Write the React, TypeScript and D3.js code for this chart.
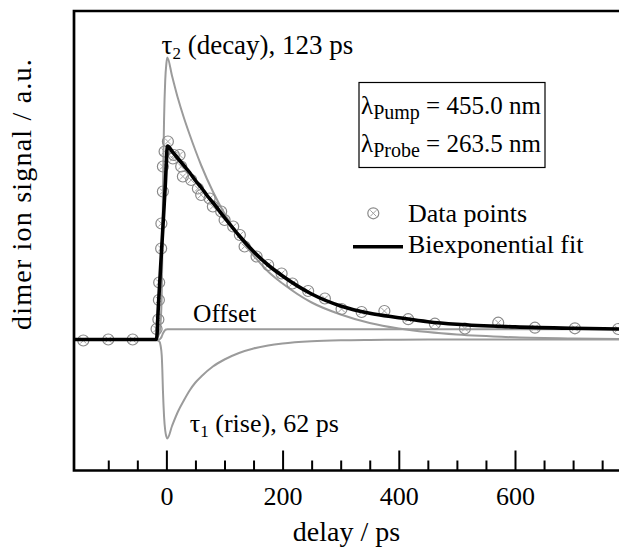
import { useEffect, useRef } from 'react';
import * as d3 from 'd3';

// delay grid (ps) for the three fit components
const compDelay = [-159, -20, -12, -10, -8, -7, -6, -5, -4, -2, 0, 1.5, 10, 20, 30, 40, 50, 60, 80, 100, 125, 150, 175, 200, 250, 300, 350, 400, 450, 500, 600, 700, 779];
const tau2Decay = [0, 0, 0.06, 0.17, 0.45, 0.85, 1.41, 1.86, 2.2, 2.59, 2.76, 2.82, 2.63, 2.41, 2.22, 2.05, 1.89, 1.74, 1.48, 1.26, 1.03, 0.84, 0.68, 0.56, 0.37, 0.25, 0.165, 0.11, 0.074, 0.049, 0.022, 0.01, 0.005];
const tau1Rise = [0, 0, -0.02, -0.06, -0.16, -0.3, -0.5, -0.65, -0.77, -0.91, -0.97, -0.99, -0.86, -0.72, -0.61, -0.51, -0.43, -0.37, -0.27, -0.2, -0.135, -0.09, -0.06, -0.04, -0.018, -0.008, -0.004, -0.002, -0.001, 0, 0, 0, 0];
const offsetComp = [0, 0, 0, 0.01, 0.03, 0.045, 0.06, 0.07, 0.08, 0.095, 0.1, 0.102, 0.102, 0.102, 0.102, 0.102, 0.102, 0.102, 0.102, 0.102, 0.102, 0.102, 0.102, 0.102, 0.102, 0.102, 0.102, 0.102, 0.102, 0.102, 0.102, 0.102, 0.102];

// biexponential fit
const fitDelay = [-159, -17, -14, -10, -6, -2, 2, 10, 20, 30, 40, 50, 60, 70, 80, 100, 125, 150, 175, 200, 250, 300, 350, 400, 450, 500, 600, 700, 779];
const fitSignal = [0, 0, 0.31, 0.72, 1.12, 1.53, 1.935, 1.88, 1.81, 1.74, 1.67, 1.59, 1.52, 1.44, 1.37, 1.22, 1.04, 0.88, 0.745, 0.635, 0.455, 0.335, 0.262, 0.218, 0.178, 0.152, 0.126, 0.112, 0.105];

// measured points
const dataDelay = [-143, -100, -58, -16.9, -13.8, -12.9, -12.4, -9, -8.6, -6, -6, -3.1, 2.6, 11.2, 12.9, 22.7, 25.5, 28.4, 42.7, 54.2, 59.9, 74.4, 80, 94.3, 100.2, 115, 126.5, 134.6, 155.2, 175.2, 198.3, 216.9, 244, 272.8, 301.5, 336, 375.2, 416.2, 462.1, 513.8, 571.1, 634.3, 703.1, 777.6];
const dataSignal = [-0.01, 0, 0, 0.105, 0.2, 0.395, 0.57, 0.91, 1.16, 1.48, 1.73, 1.88, 1.98, 1.81, 1.845, 1.845, 1.73, 1.63, 1.595, 1.51, 1.445, 1.41, 1.33, 1.28, 1.195, 1.13, 1.045, 0.93, 0.83, 0.745, 0.66, 0.56, 0.485, 0.41, 0.305, 0.275, 0.285, 0.203, 0.158, 0.11, 0.168, 0.118, 0.112, 0.105];

const majorTicks = [0, 200, 400, 600];
const minorTicks = [-100, -50, 50, 100, 150, 250, 300, 350, 450, 500, 550, 650, 700, 750];

const W = 619;
const H = 548;
const FONT = '"Liberation Serif", "Times New Roman", serif';

export default function App() {
  const svgRef = useRef<SVGSVGElement>(null);

  useEffect(() => {
    if (!svgRef.current) return;
    const svg = d3.select(svgRef.current);
    svg.selectAll('*').remove();

    const left = 74, top = 11, bottom = 470.5;
    const x = d3.scaleLinear().domain([-159, 779]).range([left, W]);
    const y = d3.scaleLinear().domain([-1.31, 3.285]).range([bottom, top]);

    svg.append('defs').append('clipPath').attr('id', 'plot')
      .append('rect').attr('x', left).attr('y', top).attr('width', W - left).attr('height', bottom - top);

    const line = d3.line<[number, number]>()
      .x((d) => x(d[0]))
      .y((d) => y(d[1]))
      .curve(d3.curveMonotoneX);

    const plot = svg.append('g').attr('clip-path', 'url(#plot)');

    [tau2Decay, tau1Rise, offsetComp].forEach((vals) => {
      plot.append('path')
        .attr('d', line(compDelay.map((t, i) => [t, vals[i]] as [number, number])))
        .attr('fill', 'none')
        .attr('stroke', '#9b9b9b')
        .attr('stroke-width', 2);
    });

    const marker = (g: d3.Selection<SVGGElement, unknown, null, undefined>) => {
      g.append('circle').attr('r', 5.5).attr('fill', 'none').attr('stroke', '#8a8a8a').attr('stroke-width', 1.2);
      g.append('path').attr('d', 'M-3,-3L3,3M-3,3L3,-3')
        .attr('stroke', '#a0a0a0').attr('stroke-width', 1);
    };

    dataDelay.forEach((t, i) => {
      const g = plot.append('g').attr('transform', `translate(${x(t)},${y(dataSignal[i])})`);
      marker(g);
    });

    plot.append('path')
      .attr('d', line(fitDelay.map((t, i) => [t, fitSignal[i]] as [number, number])))
      .attr('fill', 'none')
      .attr('stroke', '#000')
      .attr('stroke-width', 3.6)
      .attr('stroke-linejoin', 'miter');

    // ticks pointing inward
    const axisMajor = d3.axisBottom(x).tickValues(majorTicks).tickSize(-20).tickFormat(d3.format('d'));
    const axisMinor = d3.axisBottom(x).tickValues(minorTicks).tickSize(-10).tickFormat(() => '');
    const gMinor = svg.append('g').attr('transform', `translate(0,${bottom})`).call(axisMinor);
    const gMajor = svg.append('g').attr('transform', `translate(0,${bottom})`).call(axisMajor);
    [gMinor, gMajor].forEach((g) => {
      g.select('.domain').remove();
      g.selectAll('line').attr('stroke', '#000').attr('stroke-width', 2);
    });
    gMajor.selectAll('text')
      .attr('y', 34)
      .attr('dy', 0)
      .attr('font-family', FONT)
      .attr('font-size', 26)
      .attr('fill', '#000');

    // frame
    svg.append('path')
      .attr('d', `M${W + 2},${top}H${left}V${bottom}H${W + 2}`)
      .attr('fill', 'none')
      .attr('stroke', '#000')
      .attr('stroke-width', 2.7);

    const text = (tx: number, ty: number, size = 26, anchor = 'start') =>
      svg.append('text').attr('x', tx).attr('y', ty).attr('text-anchor', anchor)
        .attr('font-family', FONT).attr('font-size', size).attr('fill', '#000');

    // axis titles
    text((left + W) / 2, 541, 28, 'middle').text('delay / ps');
    svg.append('text')
      .attr('transform', 'translate(31,194) rotate(-90)')
      .attr('text-anchor', 'middle')
      .attr('font-family', FONT).attr('font-size', 28)
      .attr('letter-spacing', 1.2)
      .text('dimer ion signal / a.u.');

    // component annotations
    const t2 = text(x(-8.3), y(2.86), 27);
    t2.append('tspan').text('τ');
    t2.append('tspan').attr('font-size', 17).attr('dy', 5).text('2');
    t2.append('tspan').attr('dy', -5).text(' (decay), 123 ps');

    text(x(46), y(0.172), 25.5).text('Offset');

    const t1 = text(x(40.4), y(-0.92));
    t1.append('tspan').text('τ');
    t1.append('tspan').attr('font-size', 17).attr('dy', 5).text('1');
    t1.append('tspan').attr('dy', -5).text(' (rise), 62 ps');

    // wavelength box
    svg.append('rect').attr('x', 359).attr('y', 82.5).attr('width', 186).attr('height', 85)
      .attr('fill', 'none').attr('stroke', '#000').attr('stroke-width', 1.2);
    [['Pump', '455.0', 113.5], ['Probe', '263.5', 151.5]].forEach(([sub, val, by]) => {
      const t = text(361, by as number, 25);
      t.append('tspan').text('λ');
      t.append('tspan').attr('font-size', 20).attr('dy', 5).text(sub as string);
      t.append('tspan').attr('dy', -5).text(` = ${val} nm`);
    });

    // legend
    marker(svg.append('g').attr('transform', 'translate(373.3,213.3)'));
    text(408, 221.5).text('Data points');
    svg.append('line').attr('x1', 353).attr('x2', 403).attr('y1', 246.7).attr('y2', 246.7)
      .attr('stroke', '#000').attr('stroke-width', 3.6);
    text(408, 253).text('Biexponential fit');
  }, []);

  return (
    <div style={{ position: 'absolute', left: 0, top: 0, background: '#fff' }}>
      <svg ref={svgRef} width={W} height={H} style={{ display: 'block' }} role="img" aria-label="dimer ion signal vs delay" />
    </div>
  );
}
